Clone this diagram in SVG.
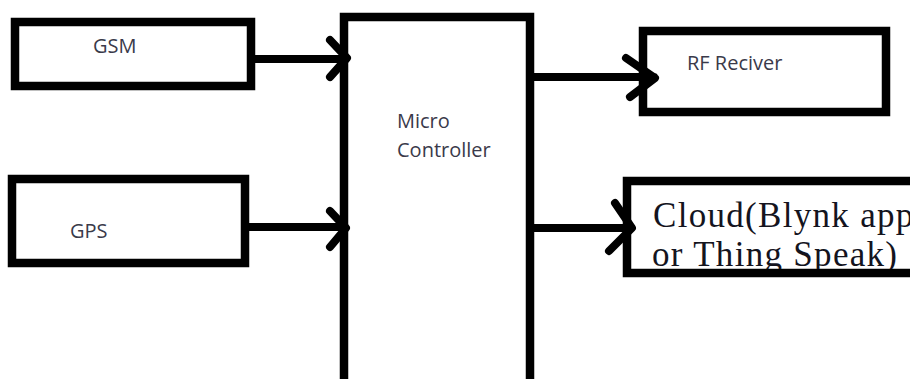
<svg xmlns="http://www.w3.org/2000/svg" width="910" height="379" viewBox="0 0 910 379">
<style>
.box{fill:#fff;stroke:#000;stroke-width:8.5}
.lbl{font-family:"Open Sans","Liberation Sans",sans-serif;font-size:20px;fill:#3a3a4a}
.cl{font-family:"Liberation Serif","DejaVu Serif",serif;font-size:35px;letter-spacing:1.3px;fill:#14141e}
.con{fill:none;stroke:#000;stroke-width:8;stroke-linecap:round;stroke-linejoin:round}
</style>
<rect width="910" height="379" fill="#fff"/>
<defs>
<clipPath id="cc"><rect x="631" y="185" width="300" height="84"/></clipPath>
</defs>
<g id="gsm">
<rect class="box" x="15" y="22" width="236" height="64"/>
<text class="lbl" x="93" y="53">GSM</text>
</g>
<g id="gps">
<rect class="box" x="12" y="179" width="233" height="84"/>
<text class="lbl" x="70" y="238">GPS</text>
</g>
<g id="mc">
<rect class="box" x="344" y="17" width="186" height="400"/>
<text class="lbl" x="397" y="128">Micro</text>
<text class="lbl" x="397" y="157">Controller</text>
</g>
<g id="rf">
<rect class="box" x="643" y="31" width="243" height="81"/>
<text class="lbl" x="687" y="70">RF Reciver</text>
</g>
<g id="cloud">
<rect class="box" x="627" y="181" width="320" height="92"/>
<g clip-path="url(#cc)">
<text class="cl" x="653" y="227">Cloud(Blynk app</text>
<text class="cl" x="652" y="266">or Thing Speak)</text>
</g>
</g>
<g id="connectors">
<path class="con" d="M255 59 H346 M330 40 L347 58 L330 77"/>
<path class="con" d="M249 227 H345 M330 211 L346 228 L330 247"/>
<path class="con" d="M534 77 H654 M626 58 L655 78 L630 97"/>
<path class="con" d="M534 228 H631 M615 203 L632 228 L609 251"/>
</g>
</svg>
